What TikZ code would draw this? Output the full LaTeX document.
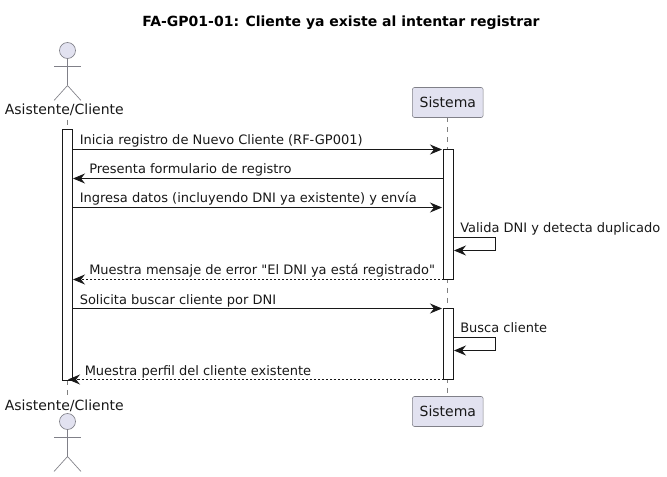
\documentclass[tikz,border=0pt]{standalone}
\usepackage{fontspec}
\newfontfamily\diagfont{DejaVu Sans}
\usetikzlibrary{arrows.meta}
\definecolor{partfill}{HTML}{E2E2F0}
\definecolor{partline}{HTML}{808088}
\definecolor{lifeline}{HTML}{808080}
\definecolor{inkdark}{HTML}{181818}
\tikzset{
	lbl/.style={anchor=base west,inner sep=0,font=\diagfont\fontsize{9.75}{11}\selectfont,text=inkdark},
	actorlbl/.style={anchor=base,inner sep=0,font=\diagfont\fontsize{10.5}{12}\selectfont,text=inkdark},
	partbox/.style={draw=partline,fill=partfill,rounded corners=1.5pt,minimum width=53pt,minimum height=22.5pt,inner sep=0,font=\diagfont\fontsize{10.5}{12}\selectfont,text=inkdark},
	actorline/.style={draw=partline,line width=.5pt},
	lifedash/.style={draw=lifeline,line width=.5pt,dash pattern=on 3.75pt off 3.75pt},
	bar/.style={draw=inkdark,fill=white,line width=.75pt,minimum width=7.5pt,inner sep=0,outer sep=0},
	msg/.style={draw=inkdark,line width=.7pt,-{Stealth[length=9pt,width=7.5pt,inset=3pt,fill=inkdark,sep=0pt]}},
	reply/.style={msg,dash pattern=on 1.5pt off 1.5pt},
}
\begin{document}
\begin{tikzpicture}
	\begin{scope}[x=0.75pt,y=-0.75pt]
		\useasboundingbox (0,0) rectangle (667,477);

		\node[anchor=base,inner sep=0,font=\diagfont\fontsize{10.5}{12}\selectfont\bfseries,text=black] (title) at (341,27) {FA-GP01-01: Cliente ya existe al intentar registrar};

		% lifelines
		\coordinate (actorTop) at (67.5,120);
		\coordinate (actorEnd) at (67.5,395);
		\coordinate (sysTop) at (447.5,117.5);
		\coordinate (sysEnd) at (447.5,396.5);
		\draw[lifedash] (actorTop)--(actorEnd);
		\draw[lifedash] (sysTop)--(sysEnd);

		% actor top
		\draw[actorline,fill=partfill] (67.5,50.5) circle (8);
		\draw[actorline] (67.5,58.5)--(67.5,85.5);
		\draw[actorline] (54,66)--(81,66);
		\draw[actorline] (54,100.5)--(67.5,85.5)--(81,100.5);
		\node[actorlbl] (actorA) at (64.3,115) {Asistente/Cliente};

		% actor bottom
		\node[actorlbl] (actorB) at (64.3,410) {Asistente/Cliente};
		\draw[actorline,fill=partfill] (67.5,421.5) circle (8);
		\draw[actorline] (67.5,429.5)--(67.5,456.5);
		\draw[actorline] (54,437)--(81,437);
		\draw[actorline] (54,471.5)--(67.5,456.5)--(81,471.5);

		% participant boxes
		\node[partbox] (sysA) at (447.8,102.5) {Sistema};
		\node[partbox] (sysB) at (447.8,411.5) {Sistema};

		% activation bars
		\node[bar,anchor=north,minimum height=188.25pt] (barActor) at (67.5,129.5) {};
		\node[bar,anchor=north,minimum height=97.5pt] (barOne) at (448.5,149.5) {};
		\node[bar,anchor=north,minimum height=53.25pt] (barTwo) at (448.5,308.5) {};

		% message ends
		\coordinate (m1a) at (barActor.east |- 0,149.5);
		\coordinate (m1b) at (442,149.5);
		\coordinate (m2a) at (barOne.west |- 0,178.5);
		\coordinate (m2b) at (73,178.5);
		\coordinate (m3a) at (barActor.east |- 0,207.5);
		\coordinate (m3b) at (442,207.5);
		\coordinate (m4a) at (barOne.east |- 0,237.5);
		\coordinate (m4b) at (495.5,237.5);
		\coordinate (m4c) at (495.5,250.5);
		\coordinate (m4d) at (454,250.5);
		\coordinate (m5a) at (barOne.west |- 0,279.5);
		\coordinate (m5b) at (73,279.5);
		\coordinate (m6a) at (barActor.east |- 0,308.5);
		\coordinate (m6b) at (442,308.5);
		\coordinate (m7a) at (barTwo.east |- 0,337.5);
		\coordinate (m7b) at (495.5,337.5);
		\coordinate (m7c) at (495.5,350.5);
		\coordinate (m7d) at (454,350.5);
		\coordinate (m8a) at (barTwo.west |- 0,379.5);
		\coordinate (m8b) at (68,379.5);

		\draw[msg] (m1a)--(m1b);
		\draw[msg] (m2a)--(m2b);
		\draw[msg] (m3a)--(m3b);
		\draw[msg] (m4a)--(m4b)--(m4c)--(m4d); % self call
		\draw[reply] (m5a)--(m5b);
		\draw[msg] (m6a)--(m6b);
		\draw[msg] (m7a)--(m7b)--(m7c)--(m7d); % self call
		\draw[reply] (m8a)--(m8b);

		% message labels
		\node[lbl] (t1) at (79.5,145) {Inicia registro de Nuevo Cliente (RF-GP001)};
		\node[lbl] (t2) at (89,174) {Presenta formulario de registro};
		\node[lbl] (t3) at (79.5,203) {Ingresa datos (incluyendo DNI ya existente) y envía};
		\node[lbl] (t4) at (460,232.5) {Valida DNI y detecta duplicado};
		\node[lbl] (t5) at (89,275) {Muestra mensaje de error "El DNI ya está registrado"};
		\node[lbl] (t6) at (79.5,304) {Solicita buscar cliente por DNI};
		\node[lbl] (t7) at (460,332.5) {Busca cliente};
		\node[lbl] (t8) at (84.5,375) {Muestra perfil del cliente existente};
	\end{scope}
\end{tikzpicture}
\end{document}
